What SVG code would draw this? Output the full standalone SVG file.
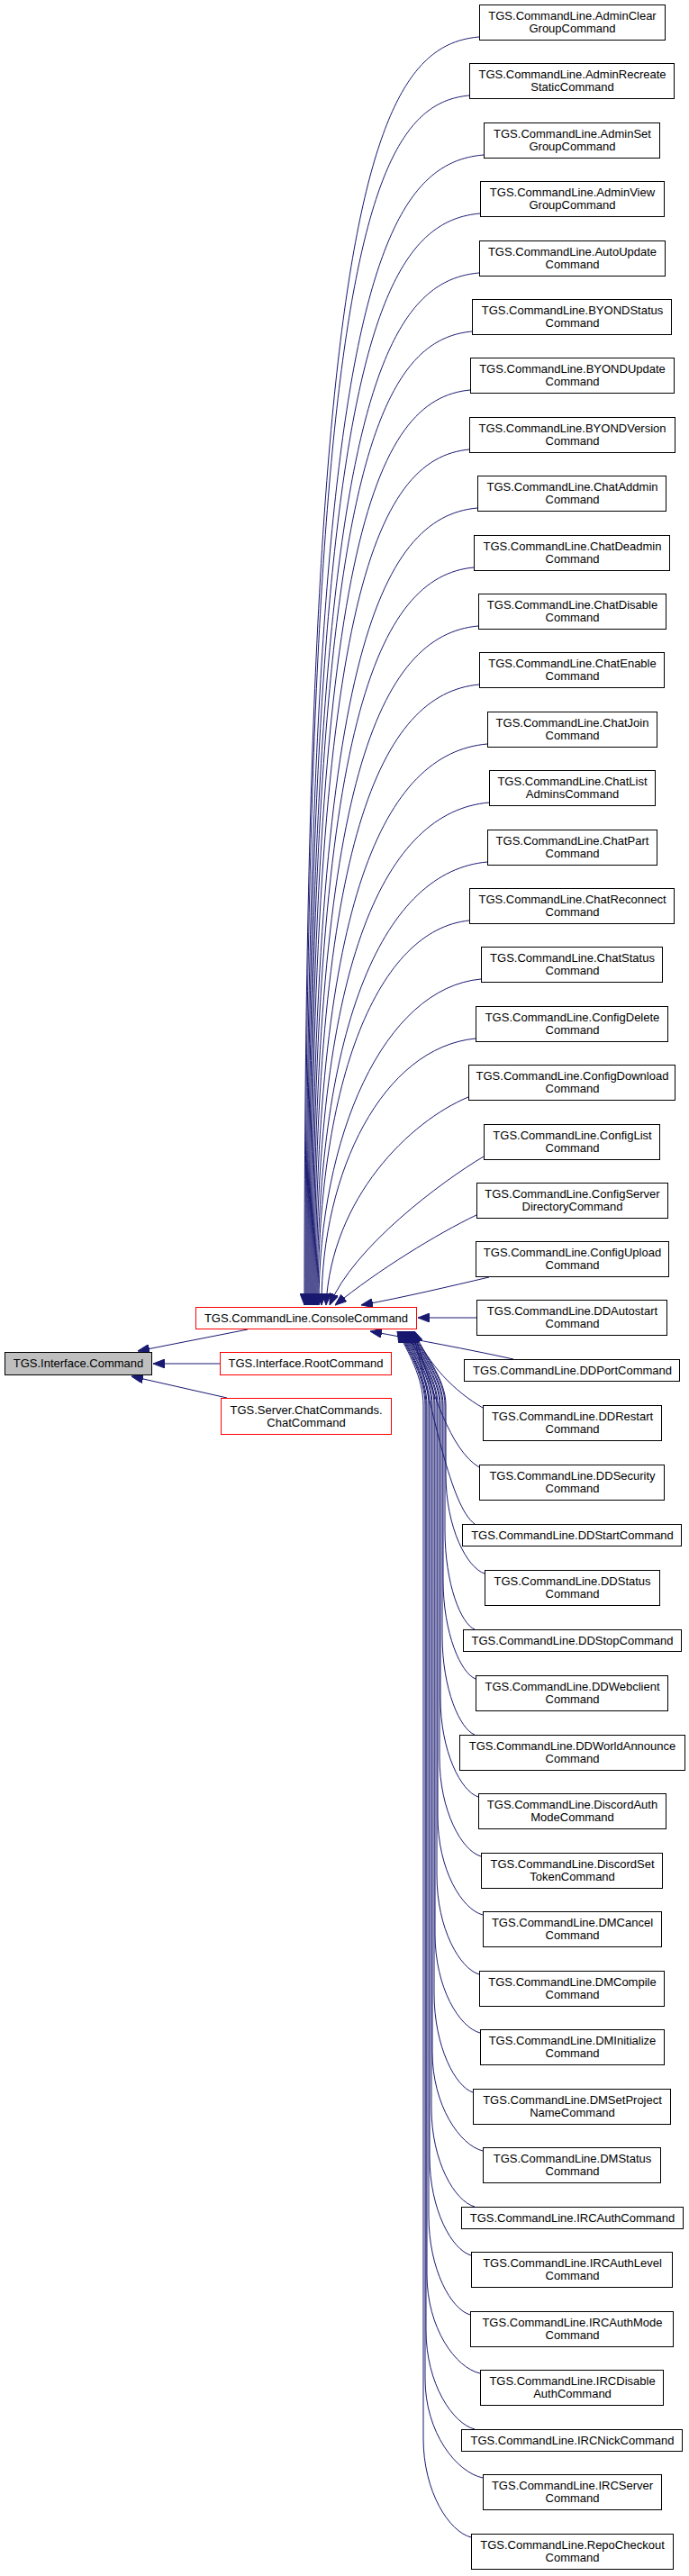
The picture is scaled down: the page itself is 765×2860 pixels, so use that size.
<svg xmlns="http://www.w3.org/2000/svg" width="765" height="2860" viewBox="0 0 765 2860">
<defs>
<marker id="arr" viewBox="0 0 13 10" refX="13" refY="5" markerWidth="13" markerHeight="10" markerUnits="userSpaceOnUse" orient="auto">
<path d="M0,0 L13,5 L0,10 z" fill="#191970" stroke="#191970" stroke-width="1"/>
</marker>
</defs>
<style>
.n rect{fill:#ffffff;stroke:#000000;stroke-width:1}
.r rect{fill:#ffffff;stroke:#ff0000;stroke-width:1}
.g rect{fill:#bfbfbf;stroke:#000000;stroke-width:1}
text{font-family:"Liberation Sans",Arial,Helvetica,sans-serif;font-size:13px;text-anchor:middle;fill:#000000}
#edges path{fill:none;stroke:#191970;stroke-width:1;marker-end:url(#arr)}
</style>
<rect x="0" y="0" width="765" height="2860" fill="#ffffff"/>
<g id="edges">
<path d="M532,41 C416,51 338,216 338,1449"/>
<path d="M521,106 C412,116 339,281 339,1449"/>
<path d="M537,172 C419,182 340,347 340,1449"/>
<path d="M533,237 C418,247 341,412 341,1449"/>
<path d="M532,303 C418,313 342,478 342,1449"/>
<path d="M524,368 C415,378 343,543 343,1449"/>
<path d="M522,433 C415,443 344,608 344,1449"/>
<path d="M521,499 C415,509 345,674 345,1449"/>
<path d="M530,564 C420,574 346,739 346,1449"/>
<path d="M526,630 C419,640 347,805 347,1449"/>
<path d="M531,695 C421,705 348,870 348,1449"/>
<path d="M532,760 C422,770 349,935 349,1449"/>
<path d="M541,826 C426,836 350,1001 350,1449"/>
<path d="M543,891 C428,901 351,1066 351,1449"/>
<path d="M541,957 C428,967 352,1132 352,1449"/>
<path d="M521,1022 C420,1032 353,1197 353,1449"/>
<path d="M534,1087 C426,1097 354,1262 354,1449"/>
<path d="M528,1153 C425,1163 357,1301 357,1449"/>
<path d="M520,1218 C455,1245 368,1330 362,1449"/>
<path d="M537,1284 C490,1312 392,1385 366,1449"/>
<path d="M529,1349 C485,1370 420,1410 372,1449"/>
<path d="M543,1418 C500,1428 450,1440 401,1449"/>
<path d="M529,1463 L464,1463"/>
<path d="M570,1509 C520,1498 460,1487 411,1478"/>
<path d="M536,1563 C505,1545 475,1515 460,1478"/>
<path d="M532,1629 C500,1610 480,1545 459,1478"/>
<path d="M527,1692 C500,1672 482,1570 458,1478"/>
<path d="M538,1747 C519,1741 495,1697 495,1637 L495,1560 C495,1530 469,1500 457,1478"/>
<path d="M527,1809 C512,1803 494,1759 494,1699 L494,1560 C494,1530 468,1500 456,1478"/>
<path d="M528,1864 C512,1858 492,1814 492,1754 L492,1560 C492,1530 467,1500 455,1478"/>
<path d="M527,1926 C511,1920 491,1876 491,1816 L491,1560 C491,1530 466,1500 454,1478"/>
<path d="M531,1995 C512,1989 489,1945 489,1885 L489,1560 C489,1530 465,1500 453,1478"/>
<path d="M534,2061 C513,2055 488,2011 488,1951 L488,1560 C488,1530 464,1500 452,1478"/>
<path d="M536,2126 C513,2120 486,2076 486,2016 L486,1560 C486,1530 463,1500 451,1478"/>
<path d="M532,2192 C511,2186 485,2142 485,2082 L485,1560 C485,1530 462,1500 450,1478"/>
<path d="M533,2257 C510,2251 483,2207 483,2147 L483,1560 C483,1530 462,1500 450,1478"/>
<path d="M525,2323 C506,2317 482,2273 482,2213 L482,1560 C482,1530 461,1500 449,1478"/>
<path d="M536,2388 C511,2382 480,2338 480,2278 L480,1560 C480,1530 460,1500 448,1478"/>
<path d="M527,2450 C505,2444 479,2400 479,2340 L479,1560 C479,1530 459,1500 447,1478"/>
<path d="M523,2504 C502,2498 477,2454 477,2394 L477,1560 C477,1530 458,1500 446,1478"/>
<path d="M522,2570 C501,2564 476,2520 476,2460 L476,1560 C476,1530 457,1500 445,1478"/>
<path d="M533,2635 C506,2629 474,2585 474,2525 L474,1560 C474,1530 456,1500 444,1478"/>
<path d="M527,2697 C503,2691 473,2647 473,2587 L473,1560 C473,1530 455,1500 443,1478"/>
<path d="M536,2751 C507,2745 472,2701 472,2641 L472,1560 C472,1530 454,1500 442,1478"/>
<path d="M523,2817 C499,2811 470,2767 470,2707 L470,1560 C470,1530 453,1500 441,1478"/>
<path d="M275,1476 L153,1500"/>
<path d="M244,1514 L170,1514"/>
<path d="M252,1552 L146,1528"/>
</g>
<g id="node_interface_command" class="g"><rect x="5.5" y="1501.5" width="163" height="25"/><text x="87" y="1518">TGS.Interface.Command</text></g>
<g id="node_console_command" class="r"><rect x="217.5" y="1451.5" width="245" height="24"/><text x="340" y="1468">TGS.CommandLine.ConsoleCommand</text></g>
<g id="node_root_command" class="r"><rect x="244.5" y="1501.5" width="190" height="25"/><text x="339.5" y="1518">TGS.Interface.RootCommand</text></g>
<g id="node_chat_command" class="r"><rect x="245.5" y="1552.5" width="189" height="40"/><text x="340" y="1570">TGS.Server.ChatCommands.</text><text x="340" y="1584">ChatCommand</text></g>
<g id="node1" class="n"><rect x="532.5" y="5.5" width="206" height="39"/><text x="635.5" y="22">TGS.CommandLine.AdminClear</text><text x="635.5" y="36">GroupCommand</text></g>
<g id="node2" class="n"><rect x="521.5" y="70.5" width="227" height="39"/><text x="635.5" y="87">TGS.CommandLine.AdminRecreate</text><text x="635.5" y="101">StaticCommand</text></g>
<g id="node3" class="n"><rect x="537.5" y="136.5" width="195" height="39"/><text x="635.5" y="153">TGS.CommandLine.AdminSet</text><text x="635.5" y="167">GroupCommand</text></g>
<g id="node4" class="n"><rect x="533.5" y="201.5" width="204" height="39"/><text x="635.5" y="218">TGS.CommandLine.AdminView</text><text x="635.5" y="232">GroupCommand</text></g>
<g id="node5" class="n"><rect x="532.5" y="267.5" width="206" height="39"/><text x="635.5" y="284">TGS.CommandLine.AutoUpdate</text><text x="635.5" y="298">Command</text></g>
<g id="node6" class="n"><rect x="524.5" y="332.5" width="221" height="39"/><text x="635.5" y="349">TGS.CommandLine.BYONDStatus</text><text x="635.5" y="363">Command</text></g>
<g id="node7" class="n"><rect x="522.5" y="397.5" width="226" height="39"/><text x="635.5" y="414">TGS.CommandLine.BYONDUpdate</text><text x="635.5" y="428">Command</text></g>
<g id="node8" class="n"><rect x="521.5" y="463.5" width="228" height="39"/><text x="635.5" y="480">TGS.CommandLine.BYONDVersion</text><text x="635.5" y="494">Command</text></g>
<g id="node9" class="n"><rect x="530.5" y="528.5" width="209" height="39"/><text x="635.5" y="545">TGS.CommandLine.ChatAddmin</text><text x="635.5" y="559">Command</text></g>
<g id="node10" class="n"><rect x="526.5" y="594.5" width="217" height="39"/><text x="635.5" y="611">TGS.CommandLine.ChatDeadmin</text><text x="635.5" y="625">Command</text></g>
<g id="node11" class="n"><rect x="531.5" y="659.5" width="208" height="39"/><text x="635.5" y="676">TGS.CommandLine.ChatDisable</text><text x="635.5" y="690">Command</text></g>
<g id="node12" class="n"><rect x="532.5" y="724.5" width="205" height="39"/><text x="635.5" y="741">TGS.CommandLine.ChatEnable</text><text x="635.5" y="755">Command</text></g>
<g id="node13" class="n"><rect x="541.5" y="790.5" width="188" height="39"/><text x="635.5" y="807">TGS.CommandLine.ChatJoin</text><text x="635.5" y="821">Command</text></g>
<g id="node14" class="n"><rect x="543.5" y="855.5" width="184" height="39"/><text x="635.5" y="872">TGS.CommandLine.ChatList</text><text x="635.5" y="886">AdminsCommand</text></g>
<g id="node15" class="n"><rect x="541.5" y="921.5" width="188" height="39"/><text x="635.5" y="938">TGS.CommandLine.ChatPart</text><text x="635.5" y="952">Command</text></g>
<g id="node16" class="n"><rect x="521.5" y="986.5" width="227" height="39"/><text x="635.5" y="1003">TGS.CommandLine.ChatReconnect</text><text x="635.5" y="1017">Command</text></g>
<g id="node17" class="n"><rect x="534.5" y="1051.5" width="201" height="39"/><text x="635.5" y="1068">TGS.CommandLine.ChatStatus</text><text x="635.5" y="1082">Command</text></g>
<g id="node18" class="n"><rect x="528.5" y="1117.5" width="213" height="39"/><text x="635.5" y="1134">TGS.CommandLine.ConfigDelete</text><text x="635.5" y="1148">Command</text></g>
<g id="node19" class="n"><rect x="520.5" y="1182.5" width="229" height="39"/><text x="635.5" y="1199">TGS.CommandLine.ConfigDownload</text><text x="635.5" y="1213">Command</text></g>
<g id="node20" class="n"><rect x="537.5" y="1248.5" width="195" height="39"/><text x="635.5" y="1265">TGS.CommandLine.ConfigList</text><text x="635.5" y="1279">Command</text></g>
<g id="node21" class="n"><rect x="529.5" y="1313.5" width="212" height="39"/><text x="635.5" y="1330">TGS.CommandLine.ConfigServer</text><text x="635.5" y="1344">DirectoryCommand</text></g>
<g id="node22" class="n"><rect x="528.5" y="1378.5" width="214" height="39"/><text x="635.5" y="1395">TGS.CommandLine.ConfigUpload</text><text x="635.5" y="1409">Command</text></g>
<g id="node23" class="n"><rect x="529.5" y="1443.5" width="211" height="39"/><text x="635.5" y="1460">TGS.CommandLine.DDAutostart</text><text x="635.5" y="1474">Command</text></g>
<g id="node24" class="n"><rect x="515.5" y="1509.5" width="239" height="24"/><text x="635.5" y="1526">TGS.CommandLine.DDPortCommand</text></g>
<g id="node25" class="n"><rect x="536.5" y="1560.5" width="198" height="39"/><text x="635.5" y="1577">TGS.CommandLine.DDRestart</text><text x="635.5" y="1591">Command</text></g>
<g id="node26" class="n"><rect x="532.5" y="1626.5" width="205" height="39"/><text x="635.5" y="1643">TGS.CommandLine.DDSecurity</text><text x="635.5" y="1657">Command</text></g>
<g id="node27" class="n"><rect x="513.5" y="1692.5" width="243" height="24"/><text x="635.5" y="1709">TGS.CommandLine.DDStartCommand</text></g>
<g id="node28" class="n"><rect x="538.5" y="1743.5" width="194" height="39"/><text x="635.5" y="1760">TGS.CommandLine.DDStatus</text><text x="635.5" y="1774">Command</text></g>
<g id="node29" class="n"><rect x="514.5" y="1809.5" width="242" height="24"/><text x="635.5" y="1826">TGS.CommandLine.DDStopCommand</text></g>
<g id="node30" class="n"><rect x="528.5" y="1860.5" width="213" height="39"/><text x="635.5" y="1877">TGS.CommandLine.DDWebclient</text><text x="635.5" y="1891">Command</text></g>
<g id="node31" class="n"><rect x="510.5" y="1926.5" width="250" height="39"/><text x="635.5" y="1943">TGS.CommandLine.DDWorldAnnounce</text><text x="635.5" y="1957">Command</text></g>
<g id="node32" class="n"><rect x="531.5" y="1991.5" width="208" height="39"/><text x="635.5" y="2008">TGS.CommandLine.DiscordAuth</text><text x="635.5" y="2022">ModeCommand</text></g>
<g id="node33" class="n"><rect x="534.5" y="2057.5" width="201" height="39"/><text x="635.5" y="2074">TGS.CommandLine.DiscordSet</text><text x="635.5" y="2088">TokenCommand</text></g>
<g id="node34" class="n"><rect x="536.5" y="2122.5" width="198" height="39"/><text x="635.5" y="2139">TGS.CommandLine.DMCancel</text><text x="635.5" y="2153">Command</text></g>
<g id="node35" class="n"><rect x="532.5" y="2188.5" width="205" height="39"/><text x="635.5" y="2205">TGS.CommandLine.DMCompile</text><text x="635.5" y="2219">Command</text></g>
<g id="node36" class="n"><rect x="533.5" y="2253.5" width="204" height="39"/><text x="635.5" y="2270">TGS.CommandLine.DMInitialize</text><text x="635.5" y="2284">Command</text></g>
<g id="node37" class="n"><rect x="525.5" y="2319.5" width="219" height="39"/><text x="635.5" y="2336">TGS.CommandLine.DMSetProject</text><text x="635.5" y="2350">NameCommand</text></g>
<g id="node38" class="n"><rect x="536.5" y="2384.5" width="197" height="39"/><text x="635.5" y="2401">TGS.CommandLine.DMStatus</text><text x="635.5" y="2415">Command</text></g>
<g id="node39" class="n"><rect x="512.5" y="2450.5" width="246" height="24"/><text x="635.5" y="2467">TGS.CommandLine.IRCAuthCommand</text></g>
<g id="node40" class="n"><rect x="523.5" y="2500.5" width="223" height="39"/><text x="635.5" y="2517">TGS.CommandLine.IRCAuthLevel</text><text x="635.5" y="2531">Command</text></g>
<g id="node41" class="n"><rect x="522.5" y="2566.5" width="225" height="39"/><text x="635.5" y="2583">TGS.CommandLine.IRCAuthMode</text><text x="635.5" y="2597">Command</text></g>
<g id="node42" class="n"><rect x="533.5" y="2631.5" width="203" height="39"/><text x="635.5" y="2648">TGS.CommandLine.IRCDisable</text><text x="635.5" y="2662">AuthCommand</text></g>
<g id="node43" class="n"><rect x="512.5" y="2697.5" width="245" height="24"/><text x="635.5" y="2714">TGS.CommandLine.IRCNickCommand</text></g>
<g id="node44" class="n"><rect x="536.5" y="2747.5" width="198" height="39"/><text x="635.5" y="2764">TGS.CommandLine.IRCServer</text><text x="635.5" y="2778">Command</text></g>
<g id="node45" class="n"><rect x="523.5" y="2813.5" width="224" height="39"/><text x="635.5" y="2830">TGS.CommandLine.RepoCheckout</text><text x="635.5" y="2844">Command</text></g>
</svg>
